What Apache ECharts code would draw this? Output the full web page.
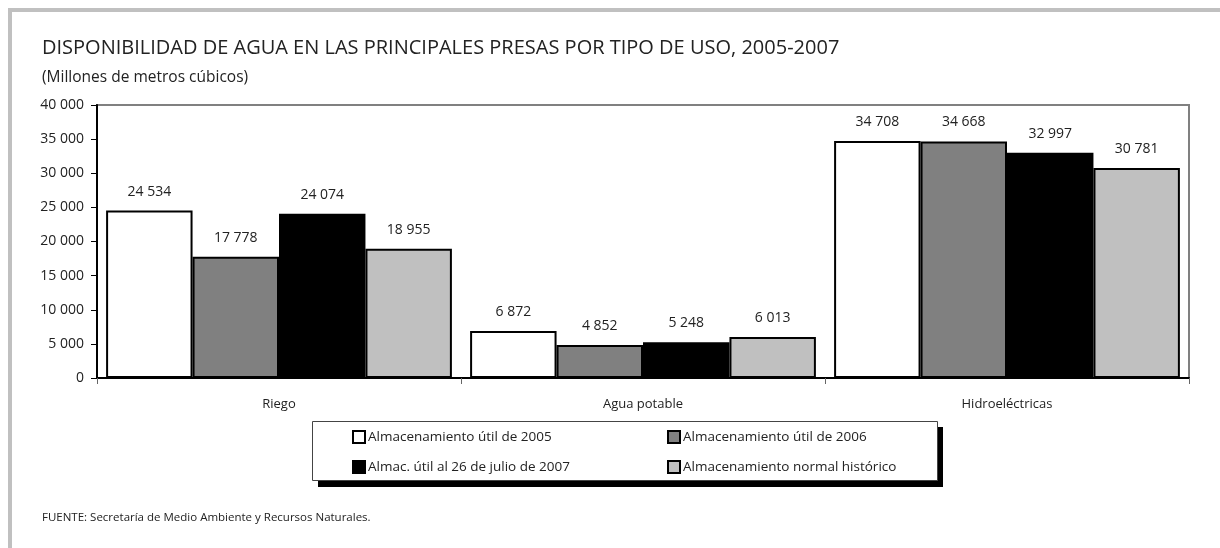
<!DOCTYPE html>
<html>
<head>
<meta charset="utf-8">
<script src="https://cdn.jsdelivr.net/npm/echarts@6/dist/echarts.min.js"></script>
<style>
  html, body { margin: 0; padding: 0; background: #fff; }
  #chart { width: 1220px; height: 548px; }
</style>
</head>
<body>
<div id="chart"></div>
<script>
// datos
var categorias = ['Riego', 'Agua potable', 'Hidroeléctricas']
var util2005 = [24534, 6872, 34708]
var util2006 = [17778, 4852, 34668]
var util2007 = [24074, 5248, 32997]
var historico = [18955, 6013, 30781]
var nombres = [
  'Almacenamiento útil de 2005',
  'Almacenamiento útil de 2006',
  'Almac. útil al 26 de julio de 2007',
  'Almacenamiento normal histórico'
]
var colores = ['#ffffff', '#808080', '#000000', '#c0c0c0']
var ejeMin = 0
var ejeMax = 40000
var ejePaso = 5000

var fuente = '"Open Sans", "DejaVu Sans", sans-serif'

function miles(v) {
  return String(v).replace(/\B(?=(\d{3})+(?!\d))/g, ' ')
}

function serie(nombre, datos, color) {
  return {
    name: nombre,
    type: 'bar',
    barGap: 0,
    barCategoryGap: '5%',
    data: datos,
    itemStyle: {
      color: color,
      borderColor: '#000',
      borderWidth: 2
    },
    label: {
      show: true,
      position: 'top',
      distance: 12,
      fontFamily: fuente,
      fontSize: 14,
      color: '#222',
      formatter: function (p) { return miles(p.value) }
    }
  }
}

// leyenda en dos columnas
function leyenda(items, x) {
  return {
    data: items,
    left: x,
    top: 427,
    orient: 'vertical',
    padding: 0,
    itemGap: 10,
    itemWidth: 12,
    itemHeight: 12,
    icon: 'rect',
    textStyle: {
      fontFamily: fuente,
      fontSize: 13.5,
      color: '#222',
      lineHeight: 20,
      padding: [0, 0, 0, -2]
    }
  }
}

var chart = echarts.init(document.getElementById('chart'))

var option = {
  backgroundColor: '#fff',
  animation: false,
  title: [
    {
      text: 'DISPONIBILIDAD DE AGUA EN LAS PRINCIPALES PRESAS POR TIPO DE USO, 2005-2007',
      left: 42,
      top: 38,
      padding: 0,
      textStyle: { fontFamily: fuente, fontSize: 20, fontWeight: 'normal', color: '#222' }
    },
    {
      text: '(Millones de metros cúbicos)',
      left: 42,
      top: 70,
      padding: 0,
      textStyle: { fontFamily: fuente, fontSize: 15.5, fontWeight: 'normal', color: '#222' }
    },
    {
      text: 'FUENTE: Secretaría de Medio Ambiente y Recursos Naturales.',
      left: 42,
      top: 512,
      padding: 0,
      textStyle: { fontFamily: fuente, fontSize: 11.5, fontWeight: 'normal', color: '#222' }
    }
  ],
  graphic: [
    // marco gris exterior
    { type: 'rect', shape: { x: 8, y: 8, width: 1212, height: 4 }, style: { fill: '#c0c0c0' }, silent: true },
    { type: 'rect', shape: { x: 8, y: 8, width: 4, height: 540 }, style: { fill: '#c0c0c0' }, silent: true },
    // caja de la leyenda con sombra
    { type: 'rect', shape: { x: 318, y: 427, width: 625, height: 60 }, style: { fill: '#000' }, silent: true, z: -1 },
    { type: 'rect', shape: { x: 312.5, y: 421.5, width: 625, height: 59 }, style: { fill: '#fff', stroke: '#444', lineWidth: 1 }, silent: true, z: -1 }
  ],
  legend: [
    leyenda([nombres[0], nombres[2]], 352),
    leyenda([nombres[1], nombres[3]], 667)
  ],
  grid: {
    left: 97,
    top: 105,
    width: 1092,
    height: 273,
    show: true,
    borderColor: '#808080',
    borderWidth: 2,
    containLabel: false,
    outerBoundsMode: 'none'
  },
  xAxis: {
    type: 'category',
    data: categorias,
    axisLine: { show: true, lineStyle: { color: '#000', width: 2 } },
    axisTick: { show: true, length: 6, lineStyle: { color: '#666', width: 1 } },
    axisLabel: { margin: 20, fontFamily: fuente, fontSize: 13, color: '#222' },
    splitLine: { show: false }
  },
  yAxis: {
    type: 'value',
    min: ejeMin,
    max: ejeMax,
    interval: ejePaso,
    axisLine: { show: true, lineStyle: { color: '#000', width: 2 } },
    axisTick: { show: true, inside: false, length: 6, lineStyle: { color: '#000', width: 1 } },
    axisLabel: {
      margin: 13,
      fontFamily: fuente,
      fontSize: 14,
      color: '#222',
      formatter: function (v) { return miles(v) }
    },
    splitLine: { show: false }
  },
  series: [
    serie(nombres[0], util2005, colores[0]),
    serie(nombres[1], util2006, colores[1]),
    serie(nombres[2], util2007, colores[2]),
    serie(nombres[3], historico, colores[3])
  ]
}

chart.setOption(option)
</script>
</body>
</html>
